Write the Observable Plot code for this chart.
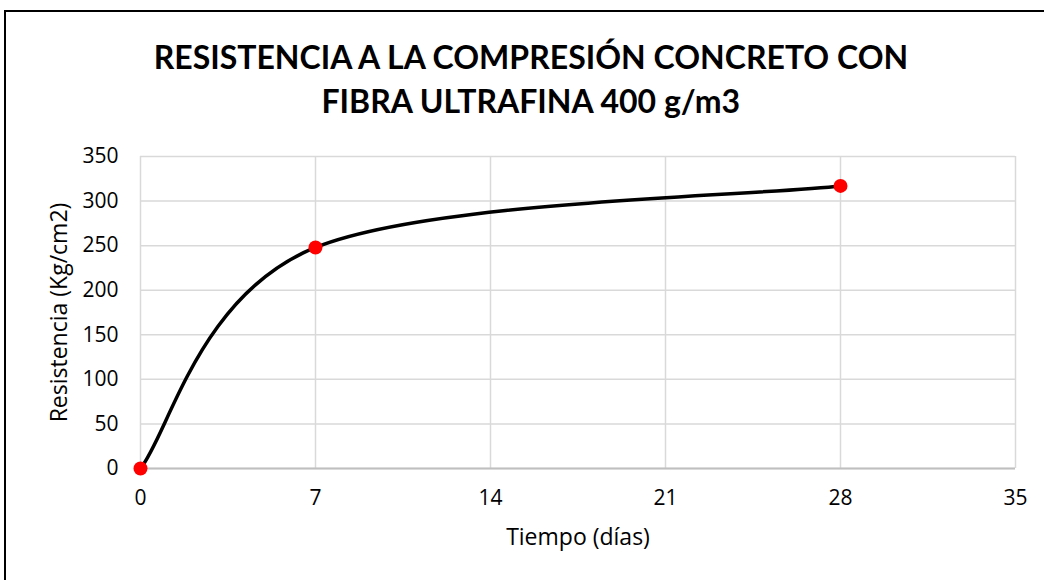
<!DOCTYPE html>
<html>
<head>
<meta charset="utf-8">
<script src="https://cdn.jsdelivr.net/npm/d3@7"></script>
<script src="https://cdn.jsdelivr.net/npm/@observablehq/plot@0.6"></script>
<style>
  html, body { margin: 0; padding: 0; background: #fff; }
  body { width: 1044px; height: 580px; overflow: hidden; position: relative; font-family: "Open Sans", sans-serif; }
  #frame { position: absolute; left: 4px; top: 10px; width: 1100px; height: 620px; border: 2px solid #000; box-sizing: border-box; }
  #title { position: absolute; left: 0; top: 0; width: 1062px; height: 140px; text-align: center; font-family: Lato, sans-serif; font-weight: 700; font-size: 33px; line-height: 44px; padding-top: 34px; box-sizing: border-box; color: #000; }
  #title span { display: inline-block; transform: scaleX(0.97); transform-origin: center; }
  #chart { position: absolute; left: 0; top: 140px; }
</style>
</head>
<body>
<div id="frame"></div>
<div id="title"><span>RESISTENCIA A LA COMPRESIÓN CONCRETO CON</span><br><span>FIBRA ULTRAFINA 400 g/m3</span></div>
<div id="chart"></div>
<script>
const days = [0, 7, 28];
const strength = [0, 248, 317];
const xTicks = [0, 7, 14, 21, 28, 35];
const yTicks = [0, 50, 100, 150, 200, 250, 300, 350];
const xLabel = "Tiempo (días)";
const yLabel = "Resistencia (Kg/cm2)";

const data = days.map((d, i) => ({ x: d, y: strength[i] }));

// Spreadsheet-style smoothed line (uniform Catmull-Rom, endpoints clamped)
function smoothCurve(context) {
  let pts = [];
  return {
    lineStart() { pts = []; },
    lineEnd() {
      const n = pts.length;
      if (!n) return;
      context.moveTo(pts[0][0], pts[0][1]);
      if (n === 1) return;
      for (let i = 0; i < n - 1; i++) {
        const p0 = pts[Math.max(0, i - 1)], p1 = pts[i], p2 = pts[i + 1], p3 = pts[Math.min(n - 1, i + 2)];
        context.bezierCurveTo(
          p1[0] + (p2[0] - p0[0]) / 6, p1[1] + (p2[1] - p0[1]) / 6,
          p2[0] - (p3[0] - p1[0]) / 6, p2[1] - (p3[1] - p1[1]) / 6,
          p2[0], p2[1]
        );
      }
    },
    areaStart() {}, areaEnd() {},
    point(x, y) { pts.push([+x, +y]); }
  };
}

const chart = Plot.plot({
  width: 1044,
  height: 440,
  marginTop: 16,
  marginLeft: 140,
  marginRight: 29,
  marginBottom: 112,
  style: { fontFamily: "'Open Sans', sans-serif", fontSize: "21px", color: "#000", background: "transparent" },
  x: { domain: [0, 35], ticks: xTicks, label: null },
  y: { domain: [0, 350], ticks: yTicks, label: null },
  marks: [
    Plot.gridX(xTicks, { stroke: "#d9d9d9", strokeOpacity: 1, strokeWidth: 1.5 }),
    Plot.gridY(yTicks, { stroke: "#d9d9d9", strokeOpacity: 1, strokeWidth: 1.5 }),
    Plot.ruleY([0], { stroke: "#bfbfbf", strokeWidth: 2 }),
    Plot.axisX(xTicks, { tickSize: 0, tickPadding: 22, fontSize: 21, fill: "#000" }),
    Plot.axisY(yTicks, { tickSize: 0, tickPadding: 22, fontSize: 21, fill: "#000" }),
    Plot.text([xLabel], { frameAnchor: "bottom", dy: 76, fontSize: 23, fill: "#000", text: d => d }),
    Plot.text([yLabel], { frameAnchor: "left", dx: -81, rotate: -90, textAnchor: "middle", fontSize: 23, fill: "#000", text: d => d }),
    Plot.line(data, { x: "x", y: "y", curve: smoothCurve, stroke: "#000", strokeWidth: 3.5 }),
    Plot.dot(data, { x: "x", y: "y", r: 7, fill: "#ff0000", stroke: "none" })
  ]
});
document.getElementById("chart").appendChild(chart);
</script>
</body>
</html>
